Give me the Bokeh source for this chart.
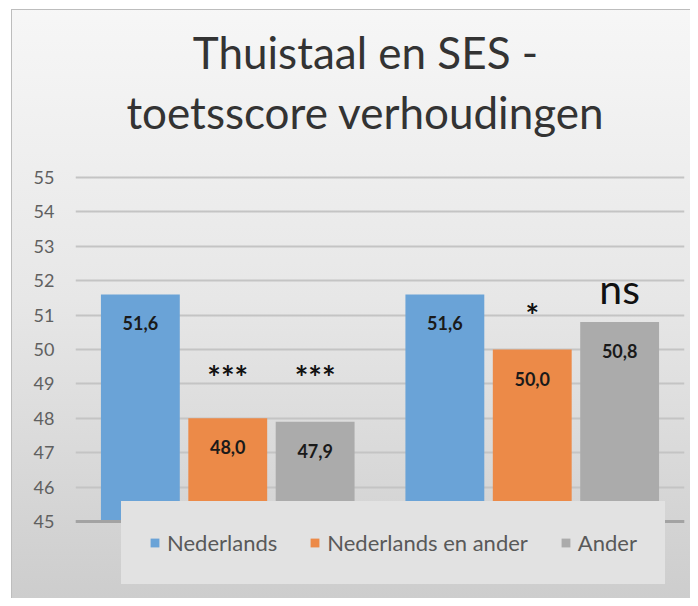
from bokeh.plotting import figure
from bokeh.models import (FactorRange, Range1d, FixedTicker, Legend, LegendItem,
                          ColumnDataSource, Span, Label)
from bokeh.transform import dodge
from bokeh.core.properties import value
from bokeh.embed import file_html
from bokeh.resources import INLINE

# ---- data ----
groups = ["Groep 1", "Groep 2"]
series = ["Nederlands", "Nederlands en ander", "Ander"]
nederlands = [51.6, 51.6]
nederlands_en_ander = [48.0, 50.0]
ander = [47.9, 50.8]
sig_nea = ["***", "*"]
sig_ander = ["***", "ns"]
sig_nea_y = [49.2, 50.99]
sig_ander_y = [49.2, 51.77]
y_ticks = [45, 46, 47, 48, 49, 50, 51, 52, 53, 54, 55]
title_lines = ["Thuistaal en SES -", "toetsscore verhoudingen"]

colors = ["#6AA3D7", "#EC8A48", "#ABABAB"]
FONT = "Lato"

# layout constants (pixels)
W, H = 690, 598
LEFT, RIGHT = 75, 6
PX = 34.4           # pixels per score unit
BASE_Y = 521        # pixel row of the lowest tick, from the top


def fmt(v):
    return f"{v:.1f}".replace(".", ",")


src = ColumnDataSource(dict(
    groups=groups,
    ned=nederlands, nea=nederlands_en_ander, oth=ander,
    ned_l=[fmt(v) for v in nederlands],
    nea_l=[fmt(v) for v in nederlands_en_ander],
    oth_l=[fmt(v) for v in ander],
))

# the frame spans the whole height; title and legend live inside it
y_lo = y_ticks[0] - (H - BASE_Y) / PX
y_hi = y_ticks[0] + BASE_Y / PX
p = figure(x_range=FactorRange(*groups, range_padding=0),
           y_range=Range1d(y_lo, y_hi), title=None,
           width=W, height=H, output_backend="svg", toolbar_location=None,
           min_border_left=LEFT, min_border_right=RIGHT, min_border_bottom=0,
           min_border_top=0)

p.styles = {
    "background": "linear-gradient(to bottom, #f7f7f7 0%, #e7e7e7 50%, #cdcdcd 100%)",
    "box-shadow": "inset 11px 9px 0 0 #ffffff, inset 12px 10px 0 0 #bdbdbd",
}
p.background_fill_color = None
p.border_fill_color = None
p.outline_line_color = None

# title (two centred lines), screen units relative to the frame
for txt, mid in zip(title_lines, [51, 111]):
    p.add_layout(Label(x=365 - LEFT, y=H - mid, x_units="screen", y_units="screen",
                       text=txt, text_align="center", text_baseline="middle",
                       text_font=FONT, text_font_size="44px", text_color="#333333"))

offs = [-0.287, 0.0, 0.287]
cols = ["ned", "nea", "oth"]
bar_w = 0.259
renderers = []
for off, col, c in zip(offs, cols, colors):
    r = p.vbar(x=dodge("groups", off, range=p.x_range), top=col, bottom=y_ticks[0],
               width=bar_w, source=src, fill_color=c, line_color=None)
    renderers.append(r)
    p.text(x=dodge("groups", off, range=p.x_range), y=col, text=col + "_l",
           source=src, text_align="center", text_baseline="middle",
           y_offset=29, text_font=value(FONT), text_font_size="18px",
           text_font_style="bold", text_color="#1a1a1a")

# significance markers
star_kw = dict(text_align="center", text_baseline="middle", text_font=value(FONT),
               text_font_size="32px", text_font_style="bold", text_color="#111111")
p.text(x=dodge("x", 0.0, range=p.x_range), y="y", text="t",
       source=ColumnDataSource(dict(x=groups, y=sig_nea_y, t=sig_nea)), **star_kw)
p.text(x=dodge("x", 0.287, range=p.x_range), y="y", text="t",
       source=ColumnDataSource(dict(x=groups[:1], y=sig_ander_y[:1], t=sig_ander[:1])),
       **star_kw)
p.text(x=dodge("x", 0.287, range=p.x_range), y="y", text="t",
       source=ColumnDataSource(dict(x=groups[1:], y=sig_ander_y[1:], t=sig_ander[1:])),
       text_align="center", text_baseline="middle", text_font=value(FONT),
       text_font_size="41px", text_font_style="normal", text_color="#111111")

# axes
p.yaxis.ticker = FixedTicker(ticks=y_ticks)
p.yaxis.axis_line_color = None
p.yaxis.major_tick_line_color = None
p.yaxis.major_tick_out = 0
p.yaxis.major_tick_in = 0
p.yaxis.minor_tick_line_color = None
p.yaxis.major_label_text_font = FONT
p.yaxis.major_label_text_font_size = "18px"
p.yaxis.major_label_text_color = "#606060"
p.yaxis.major_label_standoff = 21

p.xaxis.visible = False
p.add_layout(Span(location=y_ticks[0], dimension="width", line_color="#a3a3a3",
                  line_width=3))

p.xgrid.grid_line_color = None
p.ygrid.grid_line_color = "#c4c4c4"
p.ygrid.grid_line_width = 2

legend = Legend(items=[LegendItem(label=s, renderers=[r]) for s, r in zip(series, renderers)],
                orientation="horizontal", location=(46, 14),
                background_fill_color="#e2e2e2", background_fill_alpha=1,
                border_line_color="#e2e2e2", border_line_width=12,
                label_text_font=FONT,
                label_text_font_size="22px", label_text_color="#595959",
                glyph_width=11, glyph_height=11, spacing=32, padding=16,
                margin=0, label_standoff=7)
p.add_layout(legend, "center")

open("out.html", "w").write(file_html(p, INLINE))
